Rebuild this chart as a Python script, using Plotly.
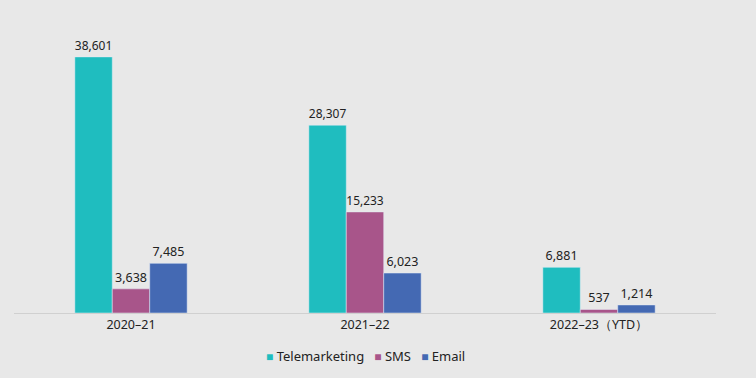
import plotly.graph_objects as go

categories = ["2020–21", "2021–22", "2022–23（YTD）"]
telemarketing = [38601, 28307, 6881]
sms = [3638, 15233, 537]
email = [7485, 6023, 1214]

series = [
    ("Telemarketing", telemarketing, "#1fbdbf"),
    ("SMS", sms, "#a8558a"),
    ("Email", email, "#4469b3"),
]

fig = go.Figure()
for name, vals, color in series:
    fig.add_trace(go.Bar(
        name=name, x=categories, y=vals, marker_color=color,
        text=[f"{v:,}" for v in vals], textposition="outside",
        textfont=dict(size=12.5, color="#222222"), cliponaxis=False,
        showlegend=False,
    ))

legend_text = "&nbsp;&nbsp;&nbsp;".join(
    f"<span style='color:{c};font-size:12px'>■</span>&nbsp;{n}" for n, _, c in series
)
fig.add_annotation(
    text=legend_text, xref="paper", yref="paper", x=0.5, y=-0.147,
    xanchor="center", yanchor="middle", showarrow=False,
    font=dict(size=13, color="#222222"),
)

fig.update_layout(
    barmode="group", bargap=0.52, bargroupgap=0,
    width=756, height=378,
    margin=dict(l=14, r=40, t=20, b=65, autoexpand=False),
    paper_bgcolor="#e8e8e8", plot_bgcolor="#e8e8e8",
    font=dict(family="Noto Sans", size=12.5, color="#222222"),
    xaxis=dict(showline=True, linecolor="#d0d0d0", linewidth=1, ticks="",
               tickfont=dict(size=12.5), showgrid=False),
    yaxis=dict(visible=False, range=[0, 44160], showgrid=False, zeroline=False),
)
fig.write_html("out.html", config={"displayModeBar": False},
               post_script="document.body.style.margin='0';document.body.style.background='#e8e8e8';")
